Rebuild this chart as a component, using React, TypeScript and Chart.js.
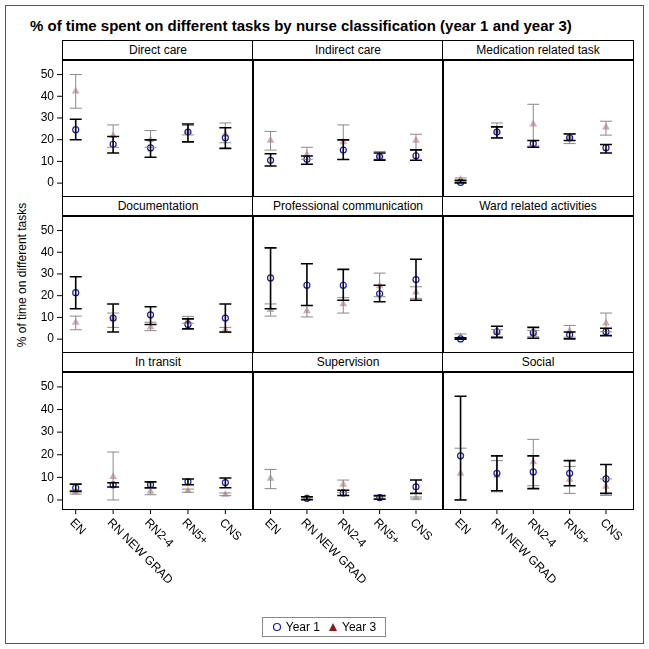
import React, { useEffect, useRef } from "react";
import { Chart, registerables } from "chart.js";
Chart.register(...registerables);

const categories = ["EN", "RN NEW GRAD", "RN2-4", "RN5+", "CNS"];
const panels = ["Direct care", "Indirect care", "Medication related task", "Documentation", "Professional communication", "Ward related activities", "In transit", "Supervision", "Social"];
const yTicks = [0, 10, 20, 30, 40, 50];

// [mean, lower, upper] per category
const year1: (number[] | null)[][] = [
  [[24.6, 20, 29.4], [17.9, 13.9, 21.5], [16.2, 11.9, 19.9], [23.5, 19, 27.2], [20.9, 16, 25.5]],
  [[10.5, 7.9, 13.5], [11, 8.7, 12.5], [15.2, 10.9, 19.9], [12.2, 10.6, 13.9], [12.6, 10.5, 15.3]],
  [[0.3, 0.1, 1.3], [23.5, 20.8, 25.9], [18.2, 16.5, 19.6], [20.9, 19.6, 22.6], [16.3, 13.9, 17.8]],
  [[21.4, 14, 28.7], [9.7, 3.3, 16.2], [11.2, 6.7, 14.9], [6.7, 4.7, 9.3], [9.7, 3.3, 16.2]],
  [[28.2, 14, 42], [24.8, 15.5, 34.7], [24.8, 17.9, 32.1], [20.9, 17.2, 24.8], [27.4, 17.9, 36.8]],
  [[0.1, 0, 0.6], [3.4, 0.7, 5.9], [2.9, 0.4, 5.4], [2, 0.1, 3.3], [3.4, 1.6, 5]],
  [[5.4, 3.8, 7], [6.7, 5.7, 7.6], [6.7, 5.4, 8], [8, 6.7, 9.3], [7.7, 5.4, 9.7]],
  [null, [0.7, 0.1, 1.4], [3.1, 2, 4.3], [1, 0.3, 1.9], [5.8, 2.9, 8.8]],
  [[19.5, 0, 45.9], [11.8, 4.1, 19.5], [12.4, 5, 19.5], [11.8, 6.3, 17.4], [9.3, 2.9, 15.7]],
];
const year3: (number[] | null)[][] = [
  [[42.3, 34.5, 50], [21.8, 16.5, 26.8], [20, 16.5, 24.2], [23.6, 22.2, 26.5], [22.5, 18.6, 27.7]],
  [[19.6, 15.2, 23.8], [13.2, 11, 16.5], [18.9, 10.9, 26.8], [12.5, 11, 14.6], [19.6, 15.3, 22.5]],
  [[1.7, 0.7, 2.4], [23.9, 21, 27.7], [27.1, 17.1, 36.3], [21, 18.2, 22.8], [25.7, 22.1, 28.5]],
  [[7.6, 4.3, 10.6], [9.5, 5.4, 12], [5.6, 3.9, 7.8], [8.5, 7.3, 10.5], [4.2, 3, 5.4]],
  [[13.5, 10.6, 16.2], [13, 10.2, 15.5], [16.2, 12, 19.1], [24.5, 19.5, 30.4], [21.6, 18.8, 24.1]],
  [[1.1, 0, 2.4], [3, 1.1, 4.4], [2.6, 1.1, 4], [3.7, 0.9, 6.3], [7.3, 3.4, 12]],
  [[3.4, 2.6, 4.3], [10.3, 0, 21.2], [3.7, 2.3, 5.1], [4.1, 3.4, 4.8], [2.4, 1.9, 3.1]],
  [[9.5, 5, 13.5], [0.7, 0.4, 1], [6.8, 3.4, 8.8], [1, 0.6, 1.4], [0.9, 0.4, 1.3]],
  [[11.7, 0.2, 22.9], [10.8, 3.6, 17.4], [16.8, 6.3, 26.8], [9, 2.9, 14.8], [6, 2, 9.3]],
];

const colX = [63, 253, 443];
const colW = 190;
const rowTop = [41, 197, 353];
const headH = 18;
const plotH = 137;
const FONT = "Arial, 'Liberation Sans', sans-serif";

const decor = {
  id: "decor",
  afterDatasetsDraw(chart: any, _a: any, opts: any) {
    const ctx = chart.ctx;
    const ys = chart.scales.y;
    const xs = chart.scales.x;
    const ca = chart.chartArea;
    ctx.save();
    [1, 0].forEach((di) => {
      const ds = chart.data.datasets[di];
      ds.bars.forEach((b: number[] | null, i: number) => {
        if (!b) return;
        const x = xs.getPixelForValue(i);
        const y1 = ys.getPixelForValue(b[1]);
        const y2 = ys.getPixelForValue(b[2]);
        ctx.strokeStyle = di === 0 ? "#000" : "#8a8a8a";
        ctx.lineWidth = di === 0 ? 1.6 : 1;
        ctx.beginPath();
        ctx.moveTo(x, y1); ctx.lineTo(x, y2);
        ctx.moveTo(x - 6, y1); ctx.lineTo(x + 6, y1);
        ctx.moveTo(x - 6, y2); ctx.lineTo(x + 6, y2);
        ctx.stroke();
      });
    });
    ctx.fillStyle = "#000";
    ctx.strokeStyle = "#000";
    ctx.lineWidth = 1;
    ctx.font = "12px " + FONT;
    if (opts.left) {
      ctx.textAlign = "right";
      ctx.textBaseline = "middle";
      yTicks.forEach((t) => {
        const y = ys.getPixelForValue(t);
        ctx.beginPath(); ctx.moveTo(ca.left - 6, y); ctx.lineTo(ca.left, y); ctx.stroke();
        ctx.fillText(String(t), ca.left - 9, y);
      });
    }
    if (opts.bottom) {
      categories.forEach((c, i) => {
        const x = xs.getPixelForValue(i);
        ctx.beginPath(); ctx.moveTo(x, ca.bottom); ctx.lineTo(x, ca.bottom + 5); ctx.stroke();
        ctx.save();
        ctx.translate(x - 4, ca.bottom + 12);
        ctx.rotate(Math.PI / 4);
        ctx.textAlign = "left";
        ctx.textBaseline = "middle";
        ctx.fillText(c, 0, 0);
        ctx.restore();
      });
    }
    ctx.restore();
  },
};

function Panel({ idx }: { idx: number }) {
  const ref = useRef<HTMLCanvasElement>(null);
  const col = idx % 3;
  const row = Math.floor(idx / 3);
  const left = col === 0;
  const bottom = row === 2;
  const padL = left ? 33 : 0;
  const padB = bottom ? 115 : 0;
  const w = colW + padL;
  const h = plotH + padB;
  useEffect(() => {
    const mk = (arr: (number[] | null)[]) => arr.map((v, i) => (v ? { x: i, y: v[0] } : null)).filter(Boolean);
    const chart = new Chart(ref.current!, {
      type: "scatter",
      data: {
        datasets: [
          { label: "Year 1", data: mk(year1[idx]) as any, bars: year1[idx], pointStyle: "circle", pointRadius: 3, borderColor: "#1c1ca8", backgroundColor: "rgba(0,0,0,0)", borderWidth: 1.2, order: 0 } as any,
          { label: "Year 3", data: mk(year3[idx]) as any, bars: year3[idx], pointStyle: "triangle", pointRadius: 4.5, borderColor: "rgba(160,70,90,0.45)", backgroundColor: "rgba(160,70,90,0.45)", borderWidth: 0, order: 1 } as any,
        ],
      },
      options: {
        animation: false,
        responsive: false,
        layout: { padding: { left: padL, bottom: padB, top: 0, right: 0 } },
        scales: {
          x: { type: "linear", min: -0.34, max: 4.6, display: false },
          y: { type: "linear", min: -4, max: 54.3, display: false },
        },
        plugins: { legend: { display: false }, tooltip: { enabled: false }, decor: { left, bottom } } as any,
      },
      plugins: [decor],
    });
    return () => chart.destroy();
  }, []);
  return (
    <>
      <div style={{ position: "absolute", left: colX[col] - 1, top: rowTop[row] - 1, width: colW, height: headH, border: "1px solid #000", borderBottom: "2px solid #000", font: "12px " + FONT, textAlign: "center", lineHeight: headH + "px", background: "#fff" }}>{panels[idx]}</div>
      <div style={{ position: "absolute", left: colX[col] - 1, top: rowTop[row] + headH, width: colW, height: plotH, border: "1px solid #000" }} />
      <canvas ref={ref} width={w} height={h} style={{ position: "absolute", left: colX[col] - padL, top: rowTop[row] + headH + 1, width: w, height: h }} />
    </>
  );
}

export default function App() {
  return (
    <div style={{ position: "absolute", left: 0, top: 0, width: 649, height: 649, background: "#fff", fontFamily: FONT }}>
      <div style={{ position: "absolute", left: 5, top: 5, width: 637, height: 637, border: "1px solid #555" }} />
      <div style={{ position: "absolute", left: 30, top: 17, font: "bold 15px " + FONT }}>% of time spent on different tasks by nurse classification (year 1 and year 3)</div>
      <div style={{ position: "absolute", left: 22, top: 275, transform: "translate(-50%,-50%) rotate(-90deg)", font: "12px " + FONT, whiteSpace: "nowrap" }}>% of time on different tasks</div>
      {panels.map((_, i) => <Panel key={i} idx={i} />)}
      <div style={{ position: "absolute", left: 262, top: 617, width: 122, height: 18, border: "1px solid #888", font: "12px " + FONT, display: "flex", alignItems: "center", justifyContent: "center", gap: 4 }}>
        <svg width="10" height="10"><circle cx="5" cy="5" r="3.5" fill="none" stroke="#1c1ca8" strokeWidth="1.2" /></svg>
        <span>Year 1</span>
        <svg width="10" height="10" style={{ marginLeft: 4 }}><polygon points="5,1 9,9 1,9" fill="#8b1a1a" /></svg>
        <span>Year 3</span>
      </div>
    </div>
  );
}
